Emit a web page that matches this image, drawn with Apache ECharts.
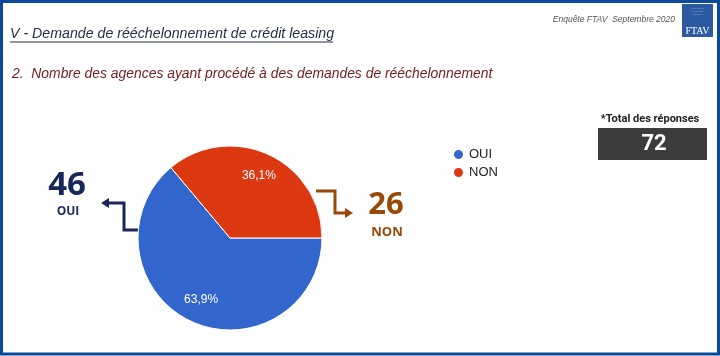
<!DOCTYPE html>
<html><head><meta charset="utf-8">
<script src="https://cdn.jsdelivr.net/npm/echarts@6/dist/echarts.min.js"></script>
<style>html,body{margin:0;padding:0;background:#fff}#c{width:720px;height:356px}</style>
</head><body><div id="c"></div>
<script>
const categories = ['OUI', 'NON'];
const counts = [46, 26];
const totalLabel = '*Total des réponses';
const total = counts.reduce((a, b) => a + b, 0);

const navy = '#18275a', brown = '#984807';
const chart = echarts.init(document.getElementById('c'), null, {renderer: 'canvas'});
const pieData = categories.map((n, i) => ({name: n, value: counts[i]}));
const fmt = p => (p.value / total * 100).toFixed(1).replace('.', ',') + '%';

chart.setOption({
  animation: false,
  color: ['#3366cc', '#dc3912'],
  legend: {
    data: categories, orient: 'vertical', left: 447, top: 143,
    icon: 'circle', itemWidth: 11, itemHeight: 11, itemGap: 5,
    textStyle: {fontFamily: 'Liberation Sans', fontSize: 13, color: '#222'}
  },
  series: [
    {
      type: 'pie', center: [230, 238], radius: 92, startAngle: 0, clockwise: true,
      data: pieData, label: {show: false}, labelLine: {show: false},
      itemStyle: {borderColor: '#fff', borderWidth: 1}, silent: true
    },
    {
      type: 'pie', center: [230, 238], radius: [40, 91], startAngle: 0, clockwise: true,
      data: pieData, silent: true, legendHoverLink: false,
      itemStyle: {color: 'rgba(0,0,0,0)'},
      label: {show: true, position: 'inner', formatter: fmt, color: '#fff',
              fontFamily: 'Liberation Sans', fontSize: 12},
      labelLine: {show: false}
    }
  ],
  graphic: [
    {type: 'rect', shape: {x: 1.5, y: 1.5, width: 717, height: 352.5}, style: {fill: 'none', stroke: '#0b4a9b', lineWidth: 3}},
    {type: 'rect', shape: {x: 682, y: 4, width: 31, height: 33}, style: {fill: '#2c5aa0'}},
    {type: 'text', x: 697.5, y: 31, style: {text: 'FTAV', fill: '#fff', font: '10px "Liberation Serif"', align: 'center', verticalAlign: 'middle'}},
    {type: 'text', x: 697.5, y: 12, style: {text: '··········\n·········\n········', fill: '#dfe6f3', font: '4px "Liberation Sans"', align: 'center', verticalAlign: 'middle', lineHeight: 3}},
    {type: 'text', x: 675, y: 20, style: {text: 'Enquête FTAV  Septembre 2020', fill: '#555', font: 'italic 8.5px "Liberation Sans"', align: 'right', verticalAlign: 'middle'}},
    {type: 'text', x: 10, y: 34, style: {text: 'V - Demande de rééchelonnement de crédit leasing', fill: '#1f2a44', font: 'italic 14.2px "Liberation Sans"', align: 'left', verticalAlign: 'middle'}},
    {type: 'line', shape: {x1: 10, y1: 42, x2: 333, y2: 42}, style: {stroke: '#1f2a44', lineWidth: 1}},
    {type: 'text', x: 12, y: 74, style: {text: '2.  Nombre des agences ayant procédé à des demandes de rééchelonnement', fill: '#6e1c1c', font: 'italic 13.9px "Liberation Sans"', align: 'left', verticalAlign: 'middle'}},
    {type: 'text', x: 650, y: 119, style: {text: totalLabel, fill: '#222', font: 'bold 11px Roboto', align: 'center', verticalAlign: 'middle'}},
    {type: 'rect', shape: {x: 598, y: 128, width: 109, height: 32}, style: {fill: '#3c3c3c'}},
    {type: 'text', x: 654, y: 144, style: {text: String(total), fill: '#fff', font: 'bold 22px Roboto', align: 'center', verticalAlign: 'middle'}},
    {type: 'text', x: 67, y: 186, style: {text: String(counts[0]), fill: navy, font: 'bold 33px "Open Sans"', align: 'center', verticalAlign: 'middle'}},
    {type: 'text', x: 68, y: 212, style: {text: categories[0], fill: navy, font: 'bold 12px "Open Sans"', align: 'center', verticalAlign: 'middle'}},
    {type: 'polyline', shape: {points: [[148, 230], [124, 230], [124, 203], [108, 203]]}, style: {stroke: navy, lineWidth: 3, fill: 'none'}},
    {type: 'polygon', shape: {points: [[101, 203], [109, 198], [109, 208]]}, style: {fill: navy}},
    {type: 'text', x: 386, y: 205, style: {text: String(counts[1]), fill: brown, font: 'bold 31px "Open Sans"', align: 'center', verticalAlign: 'middle'}},
    {type: 'text', x: 387, y: 232, style: {text: categories[1], fill: brown, font: 'bold 13px "Open Sans"', align: 'center', verticalAlign: 'middle'}},
    {type: 'polyline', shape: {points: [[316, 191], [335, 191], [335, 213], [346, 213]]}, style: {stroke: brown, lineWidth: 3, fill: 'none'}},
    {type: 'polygon', shape: {points: [[353, 213], [345, 208], [345, 218]]}, style: {fill: brown}}
  ]
});
</script></body></html>
